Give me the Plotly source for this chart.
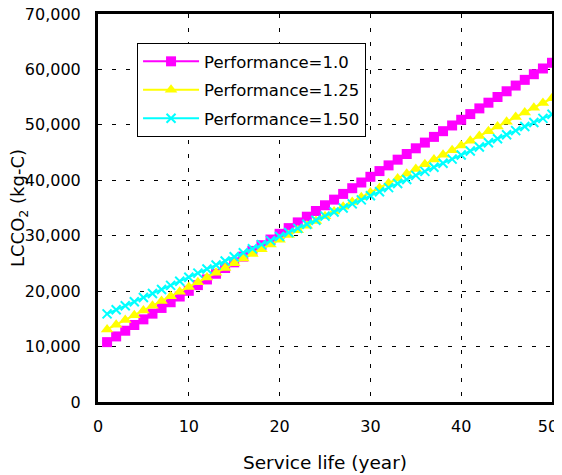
import plotly.graph_objects as go

years = list(range(1, 51))

perf_1_00 = [10800, 11830, 12860, 13890, 14910, 15940, 16970, 18000, 19030, 20060,
             21090, 22110, 23140, 24170, 25200, 26230, 27260, 28290, 29310, 30340,
             31370, 32400, 33430, 34460, 35490, 36510, 37540, 38570, 39600, 40630,
             41660, 42690, 43720, 44740, 45770, 46800, 47830, 48860, 49890, 50920,
             51940, 52970, 54000, 55030, 56060, 57090, 58120, 59140, 60170, 61200]

perf_1_25 = [13100, 13950, 14800, 15650, 16500, 17360, 18210, 19060, 19910, 20760,
             21610, 22460, 23310, 24160, 25010, 25870, 26720, 27570, 28420, 29270,
             30120, 30970, 31820, 32670, 33520, 34380, 35230, 36080, 36930, 37780,
             38630, 39480, 40330, 41180, 42030, 42890, 43740, 44590, 45440, 46290,
             47140, 47990, 48840, 49690, 50540, 51400, 52250, 53100, 53950, 54800]

perf_1_50 = [15900, 16630, 17370, 18100, 18840, 19570, 20310, 21040, 21780, 22510,
             23250, 23980, 24720, 25450, 26190, 26920, 27660, 28390, 29120, 29860,
             30590, 31330, 32060, 32800, 33530, 34270, 35000, 35740, 36470, 37210,
             37940, 38680, 39410, 40150, 40880, 41610, 42350, 43080, 43820, 44550,
             45290, 46020, 46760, 47490, 48230, 48960, 49700, 50430, 51170, 51900]

series_names = ["Performance=1.0", "Performance=1.25", "Performance=1.50"]
x_ticks = [0, 10, 20, 30, 40, 50]
x_tick_text = ["0", "10", "20", "30", "40", "50\u2002"]
y_ticks = [0, 10000, 20000, 30000, 40000, 50000, 60000, 70000]
y_tick_text = ["0", "10,000", "20,000", "30,000", "40,000", "50,000", "60,000", "70,000"]
x_title = "Service life (year)"
y_title = "LCCO<sub>2</sub> (kg-C)"

FONT = "DejaVu Sans, Liberation Sans, sans-serif"

fig = go.Figure()
fig.add_trace(go.Scatter(x=years, y=perf_1_00, name=series_names[0], mode="lines+markers",
                         legendgroup="g1",
                         line=dict(color="#FF00FF", width=2),
                         marker=dict(symbol="square", size=10, color="#FF00FF")))
fig.add_trace(go.Scatter(x=years, y=perf_1_25, name=series_names[1], mode="lines+markers",
                         legendgroup="g2",
                         line=dict(color="#FFFF00", width=2),
                         marker=dict(symbol="triangle-up", size=11, color="#FFFF00")))
fig.add_trace(go.Scatter(x=years, y=perf_1_50, name=series_names[2], mode="lines+markers",
                         legendgroup="g3",
                         line=dict(color="#00FFFF", width=2),
                         marker=dict(symbol="x-thin", size=9, color="#00FFFF",
                                     line=dict(color="#00FFFF", width=2))))

# page body adds an 8px offset; compensate in margins
fig.update_layout(
    width=562, height=475,
    margin=dict(l=90, r=18, t=6, b=81),
    paper_bgcolor="white", plot_bgcolor="white",
    font=dict(family=FONT, size=16, color="black"),
    showlegend=True,
    legend=dict(x=0.086, y=0.925, xanchor="left", yanchor="top",
                bgcolor="white", bordercolor="black", borderwidth=1,
                font=dict(family=FONT, size=16.5, color="black"),
                tracegroupgap=4, itemwidth=56),
    annotations=[dict(text=y_title, xref="paper", yref="paper", x=0, y=0.5,
                      xanchor="center", yanchor="middle", xshift=-79, textangle=-90,
                      showarrow=False, font=dict(family=FONT, size=18, color="black"))],
)

fig.update_xaxes(range=[0, 50], tickvals=x_ticks, ticktext=x_tick_text, showline=True,
                 linecolor="black", linewidth=3, mirror=True, showgrid=True,
                 gridcolor="black", gridwidth=1,
                 griddash="4px,10px", zeroline=False, ticks="outside", ticklen=8,
                 tickcolor="rgba(0,0,0,0)", automargin=False, ticklabeloverflow="allow",
                 title=dict(text=x_title, font=dict(size=18.5), standoff=21))
fig.update_yaxes(range=[0, 70000], tickvals=y_ticks, ticktext=y_tick_text, showline=True,
                 linecolor="black", linewidth=3, mirror=True, showgrid=True,
                 gridcolor="black", gridwidth=1, griddash="4px,10px", zeroline=False,
                 ticks="outside", ticklen=11, tickcolor="rgba(0,0,0,0)", automargin=False,
                 ticklabeloverflow="allow")

fig.write_html("out.html")
